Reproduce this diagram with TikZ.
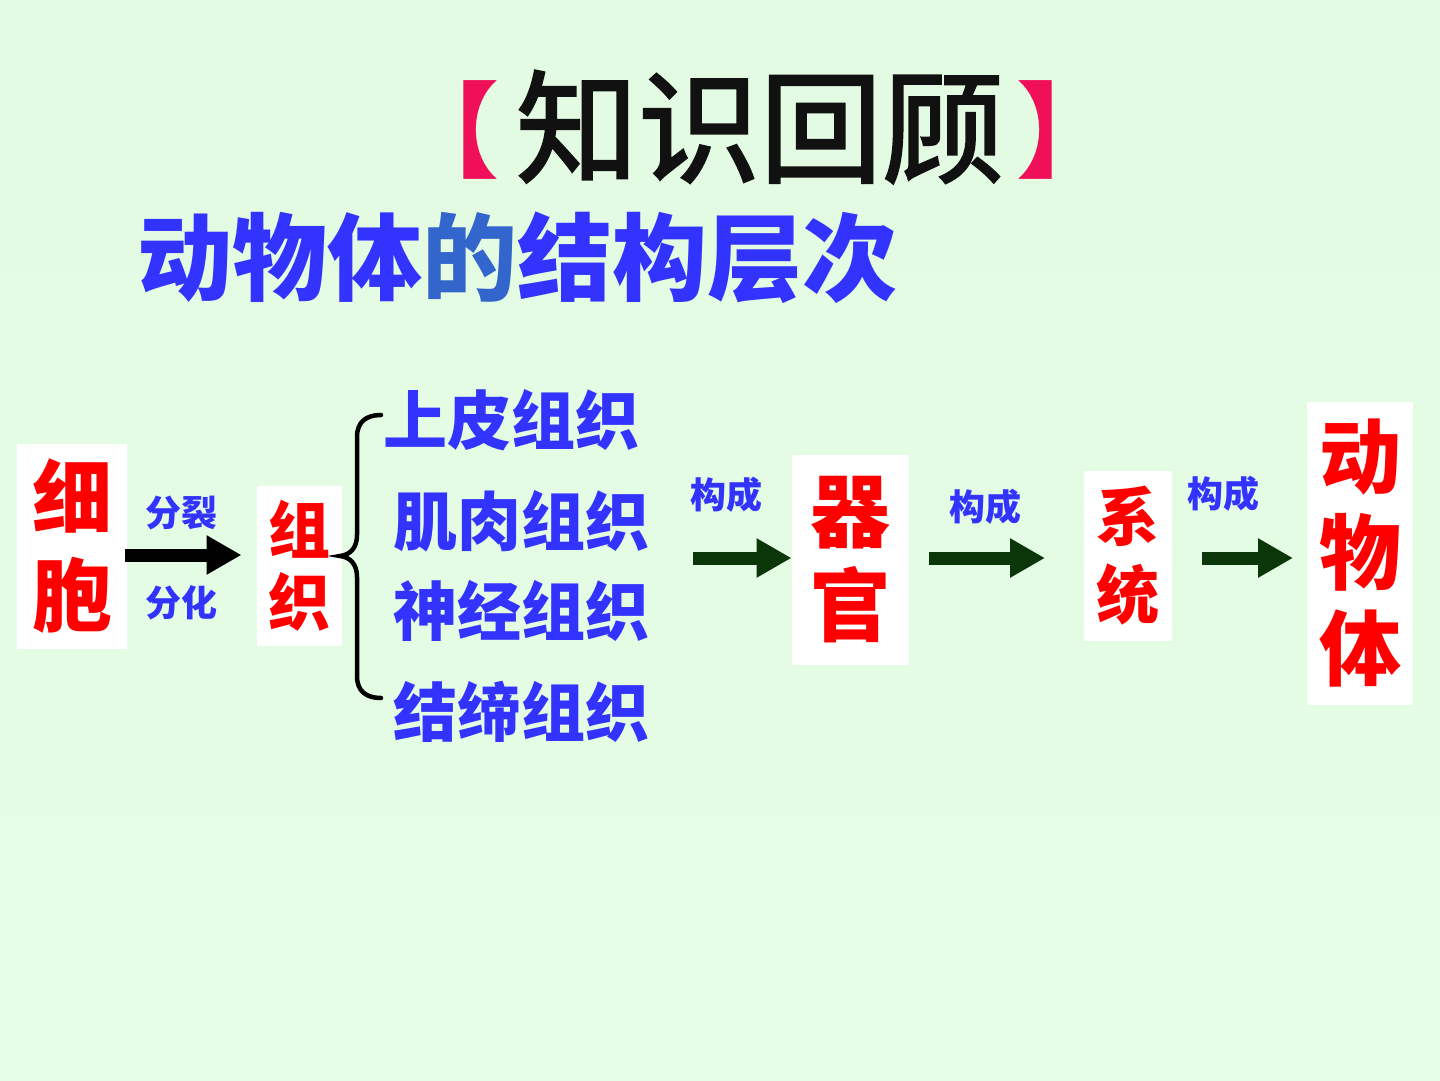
\documentclass[tikz,border=0pt]{standalone}
\usepackage{fontspec}
\newfontfamily\cjk{Noto Sans CJK SC}
\newfontfamily\cjktitle[FakeBold=2]{Noto Sans CJK SC}
\usetikzlibrary{arrows.meta}
\definecolor{bgtop}{HTML}{E3FBE3}
\definecolor{bgmid}{HTML}{F2FFF2}
\definecolor{bgbot}{HTML}{E5FCE5}
\definecolor{myblue}{HTML}{3333FF}
\definecolor{deblue}{HTML}{3366CC}
\definecolor{myred}{HTML}{FF0000}
\definecolor{arrgreen}{HTML}{0A360A}
\definecolor{brk}{HTML}{F0105A}
\definecolor{titleblack}{HTML}{111111}
\begin{document}
\begin{tikzpicture}[x=1pt,y=-1pt,
  every node/.style={inner sep=0pt, outer sep=0pt},
  whitebox/.style={fill=white, text=myred, align=center},
  bluelbl/.style={text=myblue, font=\cjk\bfseries\fontsize{36}{36}\selectfont},
  tissuelbl/.style={text=myblue, font=\cjk\bfseries\fontsize{64}{64}\selectfont},
  blackarr/.style={line width=13pt, -{Triangle[length=35pt,width=37pt]}, black},
  greenarr/.style={line width=13pt, -{Triangle[length=35pt,width=37pt]}, arrgreen},
  bracelines/.style={line width=4.5pt, line cap=round, black}
]
\useasboundingbox (0,0) rectangle (1440,1080);
\shade[top color=bgtop, middle color=bgmid, bottom color=bgbot] (0,0) rectangle (1440,1080);

% title
\node[text=titleblack, font=\cjktitle\fontsize{122}{122}\selectfont] (title) at (760,127) {知识回顾};
\node[text=brk, font=\cjk\bfseries\fontsize{104}{104}\selectfont, anchor=east] (lbr) at (499,130) {【};
\node[text=brk, font=\cjk\bfseries\fontsize{104}{104}\selectfont, anchor=west] (rbr) at (1016,130) {】};

% subtitle
\node[text=myblue, font=\cjk\bfseries\fontsize{95}{95}\selectfont] (sub) at (517,258) {动物体\textcolor{deblue}{的}结构层次};

% boxes
\node[whitebox, minimum width=110pt, minimum height=205pt, font=\cjk\bfseries\fontsize{80}{98}\selectfont] (cell) at (72,546) {细\\胞};
\node[whitebox, minimum width=85pt, minimum height=160pt, font=\cjk\bfseries\fontsize{62}{72}\selectfont] (tissue) at (299,566) {组\\织};
\node[whitebox, minimum width=117pt, minimum height=210pt, font=\cjk\bfseries\fontsize{80}{94}\selectfont] (organ) at (850,560) {器\\官};
\node[whitebox, minimum width=88pt, minimum height=170pt, font=\cjk\bfseries\fontsize{63}{78}\selectfont] (system) at (1128,556) {系\\统};
\node[whitebox, minimum width=106pt, minimum height=303pt, font=\cjk\bfseries\fontsize{82}{96}\selectfont] (animal) at (1360,553) {动\\物\\体};

% labels
\node[bluelbl] (lsplit) at (181,513) {分裂};
\node[bluelbl] (ldiff) at (181,603) {分化};
\node[bluelbl] (lc1) at (726,495) {构成};
\node[bluelbl] (lc2) at (985,507) {构成};
\node[bluelbl] (lc3) at (1223,494) {构成};

% tissue types
\node[tissuelbl] (epi) at (511,420) {上皮组织};
\node[tissuelbl] (mus) at (521,521) {肌肉组织};
\node[tissuelbl] (ner) at (521,611) {神经组织};
\node[tissuelbl] (con) at (521,712) {结缔组织};

% brace
\draw[bracelines] (381,415) .. controls (366,415) and (357,422) .. (357,437) -- (357,535)
  .. controls (357,548) and (350,555) .. (340,556)
  .. controls (350,557) and (357,564) .. (357,577) -- (357,676)
  .. controls (357,691) and (366,698) .. (381,698);

% arrows
\coordinate (rowA) at (0,555);
\coordinate (rowB) at (0,558);
\draw[blackarr, shorten <=-2pt, shorten >=15pt] (cell.east |- rowA) -- (tissue.west |- rowA);
\draw[greenarr, shorten <=44pt] (mus.east |- rowB) -- (organ.west |- rowB);
\draw[greenarr, shorten <=20pt, shorten >=39pt] (organ.east |- rowB) -- (system.west |- rowB);
\draw[greenarr, shorten <=30pt, shorten >=14pt] (system.east |- rowB) -- (animal.west |- rowB);
\end{tikzpicture}
\end{document}
